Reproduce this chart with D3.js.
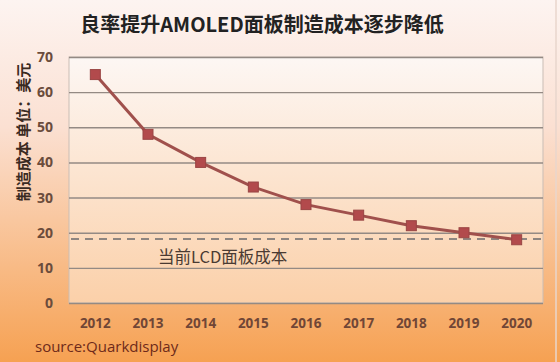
<!DOCTYPE html>
<html>
<head>
<meta charset="utf-8">
<script src="https://cdn.jsdelivr.net/npm/d3@7"></script>
<style>
  html, body { margin: 0; padding: 0; background: #fff; }
  svg { display: block; }
</style>
</head>
<body>
<div id="chart"></div>
<script>
const years = ['2012', '2013', '2014', '2015', '2016', '2017', '2018', '2019', '2020'];
const costs = [65, 48, 40, 33, 28, 25, 22, 20, 18];
const lcdCost = 18.2;
const yTicks = [0, 10, 20, 30, 40, 50, 60, 70];

const title = '良率提升AMOLED面板制造成本逐步降低';
const yTitle = '制造成本 单位：美元';
const lcdLabel = '当前LCD面板成本';
const source = 'source:Quarkdisplay';

const width = 560;
const height = 362;
const margin = { top: 57, right: 17, bottom: 59, left: 69 };

const svg = d3.select('#chart')
  .append('svg')
  .attr('width', width)
  .attr('height', height);

const defs = svg.append('defs');
const bg = defs.append('linearGradient')
  .attr('id', 'bg').attr('x1', 0).attr('y1', 0).attr('x2', 0).attr('y2', 1);
bg.append('stop').attr('offset', '0%').attr('stop-color', '#fdf4f1');
bg.append('stop').attr('offset', '35%').attr('stop-color', '#fbe0d2');
bg.append('stop').attr('offset', '100%').attr('stop-color', '#f6a152');

const plotBg = defs.append('linearGradient')
  .attr('id', 'plotbg').attr('x1', 0).attr('y1', 0).attr('x2', 0).attr('y2', 1);
plotBg.append('stop').attr('offset', '0%').attr('stop-color', '#fdf7f4');
plotBg.append('stop').attr('offset', '100%').attr('stop-color', '#fbd0a9');

svg.append('rect')
  .attr('width', width).attr('height', height)
  .attr('fill', 'url(#bg)');

svg.append('line')
  .attr('x1', 556).attr('x2', 556).attr('y1', 0).attr('y2', height)
  .attr('stroke', '#e9d6cc').attr('stroke-width', 1.5);

const x = d3.scaleBand()
  .domain(years)
  .range([margin.left, width - margin.right]);

const y = d3.scaleLinear()
  .domain([0, 70])
  .range([height - margin.bottom, margin.top]);

svg.append('rect')
  .attr('x', margin.left).attr('y', margin.top)
  .attr('width', x.range()[1] - margin.left)
  .attr('height', y(0) - y(70))
  .attr('fill', 'url(#plotbg)')
  .attr('stroke', '#c9bdb5')
  .attr('stroke-width', 1);

// Gridlines
svg.append('g')
  .attr('class', 'gridlines')
  .attr('transform', `translate(${margin.left}, 0)`)
  .call(d3.axisLeft(y).tickValues(yTicks).tickFormat('').tickSize(-(x.range()[1] - margin.left)))
  .call((g) => g.select('.domain').remove())
  .call((g) => g.selectAll('line').attr('stroke', '#948a84').attr('stroke-width', 1.4));

// Y axis labels
svg.append('g')
  .attr('transform', `translate(${margin.left - 13}, 0)`)
  .call(d3.axisLeft(y).tickValues(yTicks).tickSize(0))
  .call((g) => g.select('.domain').remove())
  .call((g) => g.selectAll('text')
    .attr('fill', '#6b4c3c')
    .attr('font-family', 'Open Sans, sans-serif')
    .attr('font-weight', 'bold')
    .attr('font-size', 14));

// X axis labels
svg.append('g')
  .attr('transform', `translate(0, ${y(0) + 12})`)
  .call(d3.axisBottom(x).tickSize(0))
  .call((g) => g.select('.domain').remove())
  .call((g) => g.selectAll('text')
    .attr('fill', '#704636')
    .attr('font-family', 'Open Sans, sans-serif')
    .attr('font-weight', 'bold')
    .attr('font-size', 13.5));

// LCD reference line
svg.append('line')
  .attr('x1', margin.left + 2).attr('x2', x.range()[1])
  .attr('y1', y(lcdCost)).attr('y2', y(lcdCost))
  .attr('stroke', '#8e8580')
  .attr('stroke-width', 2)
  .attr('stroke-dasharray', '8,6');

svg.append('text')
  .attr('x', 158).attr('y', y(lcdCost) + 24)
  .attr('fill', '#4a3a32')
  .attr('font-family', 'Noto Sans CJK SC, sans-serif')
  .attr('font-size', 16.5)
  .text(lcdLabel);

// Cost line
const line = d3.line()
  .x((d, i) => x(years[i]) + x.bandwidth() / 2)
  .y((d) => y(d));

svg.append('path')
  .datum(costs)
  .attr('fill', 'none')
  .attr('stroke', '#a0504c')
  .attr('stroke-width', 3)
  .attr('d', line);

svg.append('g')
  .selectAll('rect')
  .data(costs)
  .join('rect')
  .attr('x', (d, i) => x(years[i]) + x.bandwidth() / 2 - 5)
  .attr('y', (d) => y(d) - 5)
  .attr('width', 10)
  .attr('height', 10)
  .attr('fill', '#b24a4c')
  .attr('stroke', '#9a4544')
  .attr('stroke-width', 1);

// Title
svg.append('text')
  .attr('x', 262).attr('y', 32)
  .attr('text-anchor', 'middle')
  .attr('fill', '#222')
  .attr('font-family', 'Noto Sans CJK SC, sans-serif')
  .attr('font-weight', 'bold')
  .attr('font-size', 20)
  .text(title);

// Y title
svg.append('text')
  .attr('transform', 'translate(29, 132) rotate(-90)')
  .attr('text-anchor', 'middle')
  .attr('fill', '#3a2a22')
  .attr('font-family', 'Noto Sans CJK SC, sans-serif')
  .attr('font-weight', 'bold')
  .attr('font-size', 15)
  .text(yTitle);

// Source
svg.append('text')
  .attr('x', 35).attr('y', 352)
  .attr('fill', '#6e2a1a')
  .attr('font-family', 'Open Sans, sans-serif')
  .attr('font-size', 15)
  .text(source);
</script>
</body>
</html>
